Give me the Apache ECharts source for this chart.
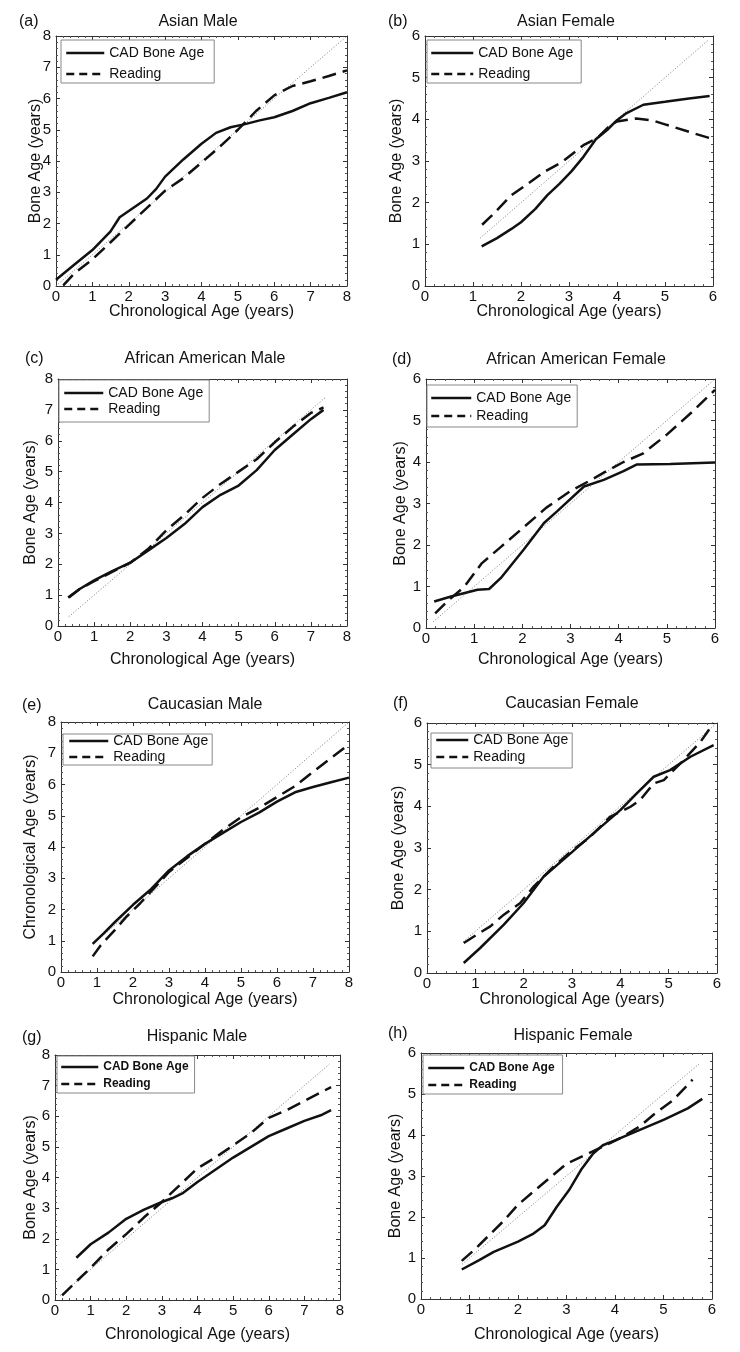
<!DOCTYPE html>
<html><head><meta charset="utf-8">
<script src="https://cdn.jsdelivr.net/npm/echarts@6/dist/echarts.min.js"></script>
<style>html,body{margin:0;padding:0;background:#fff}#c{width:740px;height:1352px}</style>
</head><body><div id="c"></div>
<script>
// ---------- data ----------
const panelLetters = ['(a)','(b)','(c)','(d)','(e)','(f)','(g)','(h)'];
const panelTitles = ['Asian Male','Asian Female','African American Male','African American Female',
  'Caucasian Male','Caucasian Female','Hispanic Male','Hispanic Female'];
const xAxisNames = ['Chronological Age (years)','Chronological Age (years)','Chronological Age (years)','Chronological Age (years)',
  'Chronological Age (years)','Chronological Age (years)','Chronological Age (years)','Chronological Age (years)'];
const yAxisNames = ['Bone Age (years)','Bone Age (years)','Bone Age (years)','Bone Age (years)',
  'Chronological Age (years)','Bone Age (years)','Bone Age (years)','Bone Age (years)'];
const axisMax = [8,6,8,6,8,6,8,6];
const legendNames = ['CAD Bone Age','Reading'];

const asianMaleCAD = [[0,0.2],[0.5,0.68],[1,1.15],[1.5,1.75],[1.75,2.2],[2,2.4],[2.5,2.8],[2.75,3.1],[3,3.5],[3.5,4.05],[4,4.55],[4.4,4.9],[4.8,5.08],[5.2,5.18],[5.6,5.3],[6,5.4],[6.5,5.6],[7,5.85],[7.5,6.02],[8,6.2]];
const asianMaleReading = [[0.2,0.02],[0.5,0.4],[1,0.85],[1.5,1.4],[2,1.95],[2.5,2.5],[3,3.05],[3.5,3.45],[4,3.95],[4.5,4.45],[5,5.0],[5.5,5.6],[6,6.1],[6.5,6.4],[7,6.55],[7.5,6.72],[8,6.9]];
const asianFemaleCAD = [[1.18,0.95],[1.5,1.15],[1.8,1.37],[2.0,1.53],[2.3,1.85],[2.55,2.18],[2.8,2.45],[3.05,2.75],[3.3,3.1],[3.56,3.52],[3.8,3.75],[4.0,3.98],[4.2,4.15],[4.55,4.35],[5.0,4.42],[5.5,4.5],[5.93,4.56]];
const asianFemaleReading = [[1.19,1.47],[1.4,1.7],[1.8,2.18],[2.2,2.5],[2.5,2.75],[2.85,2.97],[3.3,3.38],[3.6,3.56],[3.85,3.85],[4.0,3.95],[4.4,4.02],[4.75,3.97],[5.0,3.88],[5.5,3.7],[5.93,3.55]];
const afAmMaleCAD = [[0.28,0.92],[0.6,1.2],[1.0,1.48],[1.5,1.78],[2.0,2.05],[2.5,2.45],[3.0,2.85],[3.5,3.3],[4.0,3.85],[4.5,4.25],[5.0,4.55],[5.5,5.05],[6.0,5.7],[6.5,6.2],[7.0,6.7],[7.35,7.0]];
const afAmMaleReading = [[0.3,0.92],[0.6,1.2],[1.0,1.45],[1.5,1.75],[2.0,2.05],[2.5,2.5],[3.0,3.1],[3.5,3.6],[4.0,4.15],[4.5,4.6],[5.0,5.0],[5.5,5.4],[6.0,5.95],[6.5,6.45],[7.0,6.9],[7.35,7.08]];
const afAmFemaleCAD = [[0.17,0.64],[0.52,0.76],[1.07,0.92],[1.31,0.94],[1.55,1.2],[2.03,1.89],[2.45,2.53],[2.72,2.81],[3.28,3.41],[3.69,3.57],[4.1,3.78],[4.38,3.94],[5.07,3.95],[6.0,3.99]];
const afAmFemaleReading = [[0.19,0.35],[0.45,0.65],[0.8,1.0],[1.15,1.55],[1.55,1.95],[2.0,2.4],[2.5,2.9],[3.0,3.3],[3.4,3.55],[3.7,3.75],[4.1,4.0],[4.5,4.2],[5.0,4.66],[5.5,5.18],[6.0,5.74]];
const caucMaleCAD = [[0.88,0.9],[1.2,1.25],[1.5,1.6],[2.0,2.15],[2.5,2.65],[3.0,3.25],[3.5,3.7],[4.0,4.1],[4.5,4.45],[5.0,4.8],[5.5,5.1],[6.0,5.45],[6.5,5.75],[7.0,5.92],[7.5,6.07],[8.0,6.22]];
const caucMaleReading = [[0.88,0.5],[1.1,0.85],[1.5,1.35],[1.8,1.75],[2.2,2.2],[2.6,2.7],[3.0,3.2],[3.5,3.65],[4.0,4.1],[4.5,4.55],[5.0,4.95],[5.5,5.25],[6.0,5.6],[6.5,5.95],[7.0,6.4],[7.5,6.85],[7.9,7.2]];
const caucFemaleCAD = [[0.76,0.24],[1.1,0.6],[1.59,1.16],[2.0,1.68],[2.41,2.31],[2.97,2.87],[3.52,3.43],[4.0,3.91],[4.34,4.31],[4.69,4.71],[5.03,4.87],[5.45,5.19],[5.93,5.47]];
const caucFemaleReading = [[0.76,0.72],[1.03,0.92],[1.31,1.12],[1.59,1.4],[1.93,1.68],[2.21,2.08],[2.62,2.55],[2.97,2.91],[3.38,3.27],[3.79,3.75],[4.21,3.99],[4.41,4.15],[4.69,4.55],[4.9,4.63],[5.31,5.11],[5.66,5.55],[5.93,6.0]];
const hispMaleCAD = [[0.6,1.38],[1.0,1.82],[1.5,2.2],[2.0,2.65],[2.5,2.95],[3.0,3.2],[3.3,3.33],[3.6,3.5],[4.0,3.85],[4.5,4.25],[5.0,4.65],[5.5,5.0],[6.0,5.35],[6.5,5.6],[7.0,5.85],[7.5,6.05],[7.75,6.2]];
const hispMaleReading = [[0.2,0.15],[0.55,0.55],[1.0,1.05],[1.5,1.65],[2.0,2.15],[2.5,2.7],[3.0,3.2],[3.5,3.75],[4.0,4.3],[4.5,4.65],[5.0,5.05],[5.5,5.45],[6.0,5.95],[6.5,6.2],[7.0,6.5],[7.5,6.8],[7.75,6.95]];
const hispFemaleCAD = [[0.84,0.72],[1.2,0.95],[1.5,1.15],[2.0,1.4],[2.3,1.58],[2.55,1.8],[2.8,2.25],[3.05,2.65],[3.3,3.15],[3.55,3.55],[3.75,3.75],[4.0,3.87],[4.5,4.12],[5.0,4.37],[5.5,4.65],[5.8,4.88]];
const hispFemaleReading = [[0.84,0.93],[1.1,1.2],[1.4,1.55],[1.7,1.9],[2.0,2.3],[2.4,2.7],[2.7,3.0],[3.0,3.3],[3.4,3.52],[3.75,3.72],[4.1,3.92],[4.5,4.2],[4.8,4.5],[5.2,4.85],[5.6,5.35]];
const identityStart = [0, 1.15, 0.3, 0.15, 0.9, 0.75, 0.15, 0.85];
const identityEnd = [8, 5.9, 7.4, 6.0, 8, 5.95, 7.7, 5.75];

const cadSeries = [asianMaleCAD, asianFemaleCAD, afAmMaleCAD, afAmFemaleCAD, caucMaleCAD, caucFemaleCAD, hispMaleCAD, hispFemaleCAD];
const readingSeries = [asianMaleReading, asianFemaleReading, afAmMaleReading, afAmFemaleReading, caucMaleReading, caucFemaleReading, hispMaleReading, hispFemaleReading];

// ---------- layout ----------
const FONT = "'Liberation Sans', Arial, Helvetica, sans-serif";
const grids = [
  {left:56, top:36, width:291, height:250},
  {left:425, top:36, width:288, height:250},
  {left:58, top:379, width:289, height:247},
  {left:426, top:379, width:289, height:249},
  {left:61, top:722, width:288, height:250},
  {left:427, top:723, width:290, height:250},
  {left:55, top:1055, width:285, height:245},
  {left:421, top:1053, width:291, height:246}
];
const yNameGap = [12,20,19,17,22,20,16,17];
const xNameGap = [18,18,26,24,20,19,27,28];
const titleCenters = [[198,23],[566,23],[205,360],[576,361],[205,706],[572,705],[197,1038],[573,1037]];
const letterPos = [[19,23],[388,23],[25,360],[392,361],[22,707],[393,705],[22,1039],[388,1035]];
const legendLayouts = [
  {left:61, top:40, itemWidth:38, itemGap:7, padding:[6,10,2,4], size:14, bold:false},
  {left:427, top:40, itemWidth:42, itemGap:7, padding:[6,8,2,3], size:14, bold:false},
  {left:59, top:380, itemWidth:39, itemGap:2, padding:[6,6,6,4], size:14, bold:false},
  {left:427, top:385, itemWidth:40, itemGap:4, padding:[6,6,4,3], size:14, bold:false},
  {left:63, top:734, itemWidth:39, itemGap:2, padding:[0,4,1,5], size:14, bold:false},
  {left:431, top:733, itemWidth:32, itemGap:3, padding:[0,4,4,4], size:14, bold:false},
  {left:57, top:1056, itemWidth:37, itemGap:5, padding:[5,6,3,3], size:12, bold:true},
  {left:423, top:1055, itemWidth:36, itemGap:5, padding:[7,8,3,4], size:12, bold:true}
];

const AX = '#333';
const option = {
  backgroundColor:'#fff',
  animation:false,
  color:['#111'],
  title:[], grid:[], xAxis:[], yAxis:[], series:[], legend:[]
};

for (let i = 0; i < 8; i++) {
  const g = grids[i];
  option.grid.push(Object.assign({outerBoundsMode:'none', containLabel:false}, g));
  const mx = axisMax[i];
  const baseAxis = (pos, showLabel, name, gap, isX) => ({
    type:'value', gridIndex:i, position:pos, min:0, max:mx, interval:1,
    name: name || '', nameLocation:'middle', nameGap:gap || 0, nameMoveOverlap:false,
    nameTextStyle:{fontFamily:FONT, fontSize:16, color:'#111'},
    axisLine:{show:true, onZero:false, lineStyle:{color:AX, width:1}},
    axisTick:{show:true, inside:true, length:4, lineStyle:{color:AX, width:1}},
    minorTick:{show:true, splitNumber:5, length:2, lineStyle:{color:'#555', width:1}},
    splitLine:{show:false}, minorSplitLine:{show:false},
    axisLabel:{show:showLabel, fontFamily:FONT, fontSize:15, color:'#111', margin: isX ? 3 : 5}
  });
  option.xAxis.push(baseAxis('bottom', true, xAxisNames[i], xNameGap[i], true));
  option.xAxis.push(baseAxis('top', false, '', 0, true));
  option.yAxis.push(baseAxis('left', true, yAxisNames[i], yNameGap[i], false));
  option.yAxis.push(baseAxis('right', false, '', 0, false));
  const xi = 2*i, yi = 2*i;

  option.series.push({
    type:'line', name:'identity', xAxisIndex:xi, yAxisIndex:yi, symbol:'none', silent:true, z:1,
    data:[[identityStart[i], identityStart[i]], [identityEnd[i], identityEnd[i]]],
    itemStyle:{color:'#777'},
    lineStyle:{color:'#777', width:1, type:[1,2]}
  });
  option.series.push({
    type:'line', name:legendNames[0], xAxisIndex:xi, yAxisIndex:yi, symbol:'none', z:3,
    itemStyle:{color:'#111'},
    data:cadSeries[i], lineStyle:{color:'#111', width:2.5, type:'solid'}
  });
  option.series.push({
    type:'line', name:legendNames[1], xAxisIndex:xi, yAxisIndex:yi, symbol:'none', z:2,
    itemStyle:{color:'#111'},
    data:readingSeries[i], lineStyle:{color:'#111', width:2.5, type:[14,7]}
  });

  const L = legendLayouts[i];
  option.legend.push({
    show:true, orient:'vertical', left:L.left, top:L.top, itemWidth:L.itemWidth, itemHeight:12,
    itemGap:L.itemGap, padding:L.padding, borderColor:'#888', borderWidth:1, backgroundColor:'#fff',
    selectedMode:false,
    itemStyle:{opacity:0, borderWidth:0, color:'rgba(0,0,0,0)'},
    textStyle:{fontFamily:FONT, fontSize:L.size, fontWeight:L.bold ? 'bold' : 'normal', color:'#111'},
    data:[
      {name:legendNames[0], lineStyle:{type:'solid', width:2.5, color:'#111'}},
      {name:legendNames[1], lineStyle:{type:[8,5], width:2.5, color:'#111'}}
    ]
  });

  option.title.push({
    text:panelTitles[i], left:titleCenters[i][0], top:titleCenters[i][1]-9, textAlign:'center', padding:0,
    textStyle:{fontFamily:FONT, fontSize:16, fontWeight:'normal', color:'#111'}
  });
  option.title.push({
    text:panelLetters[i], left:letterPos[i][0], top:letterPos[i][1]-9, padding:0,
    textStyle:{fontFamily:FONT, fontSize:16, fontWeight:'normal', color:'#111'}
  });
}

const chart = echarts.init(document.getElementById('c'), null, {renderer:'canvas'});
chart.setOption(option);
</script></body></html>
